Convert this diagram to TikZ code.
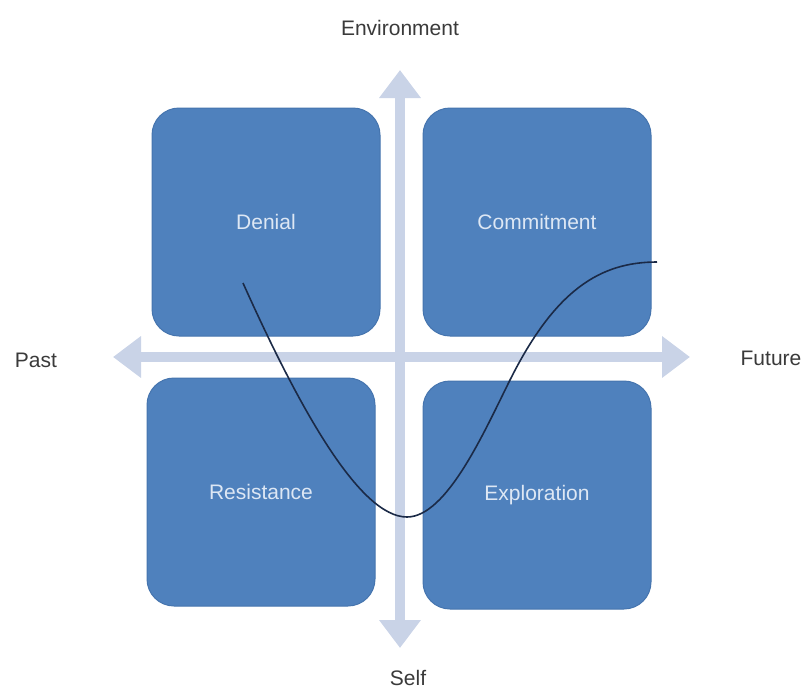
\documentclass[tikz,border=0pt]{standalone}
\usepackage{fontspec}
\setmainfont{Liberation Sans}
\usetikzlibrary{arrows.meta}
\definecolor{boxblue}{HTML}{4F81BD}
\definecolor{boxedge}{HTML}{4574AE}
\definecolor{axisblue}{HTML}{C9D3E7}
\definecolor{labelgray}{HTML}{3A3A3A}
\definecolor{boxtext}{HTML}{DDE7F4}
\definecolor{curveblue}{HTML}{1B2A47}
\begin{document}
\begin{tikzpicture}[x=1pt, y=-1pt, font=\fontsize{21}{25}\selectfont,
  quad/.style={draw=boxedge, line width=1pt, fill=boxblue, rounded corners=27pt,
    minimum width=228pt, minimum height=228pt, inner sep=0pt, text=boxtext},
  axisline/.style={axisblue, line width=10pt,
    {Triangle[width=40pt,length=28pt]}-{Triangle[width=40pt,length=28pt]}},
  curve/.style={curveblue, line width=1.6pt}]
\useasboundingbox (0,0) rectangle (804,691);

\coordinate (top) at (400,70);
\coordinate (bottom) at (400,648);
\coordinate (left) at (113,357);
\coordinate (right) at (690,357);

\draw[axisline] (top)--(bottom);
\draw[axisline] (left)--(right);

\node[quad] (denial) at (266,222) {Denial};
\node[quad] (commitment) at (537,222) {Commitment};
\node[quad] (resistance) at (261,492) {Resistance};
\node[quad] (exploration) at (537,495) {Exploration};

\node[text=labelgray] (env) at (400,28) {Environment};
\node[text=labelgray] (past) at (36,360) {Past};
\node[text=labelgray] (future) at (771,358) {Future};
\node[text=labelgray] (self) at (408,678) {Self};

\coordinate (c0) at (243,283);
\coordinate (c1) at (407,517);
\coordinate (cm) at (510,380);
\coordinate (c2) at (657,262);

\draw[curve] (c0) .. controls +(57,127) and +(-47,0) .. (c1)
  .. controls +(40,0) and +(-25,50) .. (cm)
  .. controls +(45,-90) and +(-57,0) .. (c2);
\end{tikzpicture}
\end{document}
